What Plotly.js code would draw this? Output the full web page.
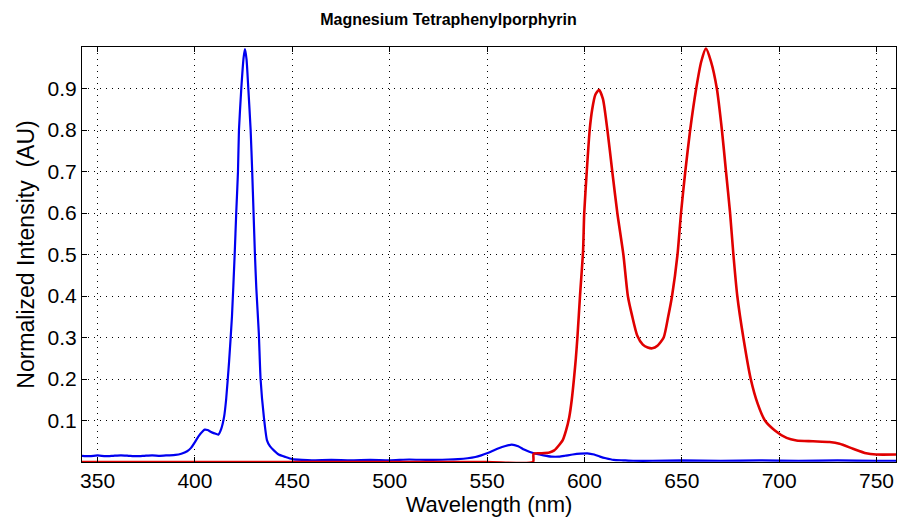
<!DOCTYPE html>
<html>
<head>
<meta charset="utf-8">
<script src="https://cdn.plot.ly/plotly-3.0.1.min.js"></script>
<style>html,body{margin:0;padding:0;background:#fff;}#chart{width:897px;height:519px;}</style>
</head>
<body>
<div id="chart"></div>
<script>
// Absorption (blue)
const blueWavelength = [342,346,350,354,358,362,366,370,374,378,382,386,390,393,396,398,400,402,404,405,406.5,408,410,412,413.5,415,416,417.5,419,420.4,421.2,422.1,422.6,423.8,425,425.7,426.5,427.4,428.6,429.4,430.1,430.8,431.5,432.8,433.7,435.4,437,438.5,440.5,443,446.5,450,455,460,470,480,490,500,510,520,530,535,540,544,547,550,553,556,559,562.7,566,569,572,575,579,583,587,590,594,598,601.5,605,608,611,615,620,625,635,650,670,690,710,730,750,760];
const blueIntensity = [0.015,0.014,0.016,0.014,0.015,0.016,0.015,0.014,0.015,0.016,0.015,0.016,0.017,0.020,0.026,0.034,0.048,0.063,0.074,0.078,0.077,0.073,0.069,0.066,0.080,0.110,0.150,0.240,0.350,0.500,0.600,0.700,0.800,0.900,0.975,0.995,0.970,0.900,0.800,0.700,0.600,0.500,0.420,0.310,0.200,0.108,0.052,0.038,0.028,0.018,0.012,0.007,0.005,0.004,0.005,0.004,0.005,0.004,0.006,0.005,0.006,0.007,0.009,0.012,0.016,0.021,0.027,0.033,0.038,0.042,0.038,0.030,0.024,0.020,0.016,0.013,0.013,0.015,0.018,0.020,0.021,0.018,0.013,0.009,0.005,0.004,0.003,0.003,0.004,0.003,0.004,0.003,0.004,0.003,0.003];
// Emission (red)
const redWavelength = [342,400,450,500,550,573.6,573.9,578,582,584.5,586.5,588.8,590.5,592.2,593.5,594.7,595.6,596.4,597.8,599.3,599.9,601.2,602.7,604,605.6,607.5,609.5,611.8,614.3,616.9,620,622.3,624.5,627.1,630,632.5,634.8,637.5,640.7,643,645,647.8,649.6,651.8,654.3,657.4,660,662.4,665,668,670.6,672.7,674.8,676.5,678.5,681.6,685.4,689,692.7,697.8,703.8,708.9,717.4,725.9,731,737.9,744.7,749.8,760];
const redIntensity = [0,0,0,0,0,0,0.020,0.021,0.023,0.028,0.038,0.052,0.075,0.108,0.150,0.204,0.250,0.300,0.405,0.508,0.600,0.700,0.800,0.850,0.885,0.897,0.875,0.800,0.700,0.600,0.500,0.400,0.352,0.305,0.283,0.276,0.274,0.280,0.300,0.350,0.400,0.500,0.600,0.700,0.800,0.900,0.965,0.996,0.965,0.900,0.800,0.700,0.600,0.500,0.400,0.300,0.200,0.140,0.100,0.076,0.058,0.052,0.050,0.048,0.044,0.032,0.021,0.018,0.018];
const xTicks = [350,400,450,500,550,600,650,700,750];
const yTicks = [0.1,0.2,0.3,0.4,0.5,0.6,0.7,0.8,0.9];

const FONT = '"Liberation Sans", Arial, Helvetica, sans-serif';
const axisCommon = {
  showline: true, linecolor: '#000', linewidth: 1, mirror: 'ticks',
  ticks: 'inside', ticklen: 5, tickcolor: '#000', tickwidth: 1,
  showgrid: true, gridcolor: '#000', gridwidth: 1, griddash: '1px,5px',
  zeroline: false, tickfont: {family: FONT, size: 21, color: '#000'}
};
const data = [
  {x: blueWavelength, y: blueIntensity, type: 'scatter', mode: 'lines', line: {color: '#0000f0', width: 2.2, shape: 'spline', smoothing: 0.5}, hoverinfo: 'skip'},
  {x: redWavelength, y: redIntensity, type: 'scatter', mode: 'lines', line: {color: '#e00000', width: 2.6, shape: 'spline', smoothing: 0.6}, hoverinfo: 'skip'}
];
const layout = {
  width: 897, height: 519,
  margin: {l: 82, r: 1, t: 47, b: 57},
  paper_bgcolor: '#fff', plot_bgcolor: '#fff',
  showlegend: false,
  title: {text: 'Magnesium Tetraphenylporphyrin', font: {family: FONT, size: 16, color: '#000', weight: 'bold'}, x: 0.5, xanchor: 'center', y: 0.962, yanchor: 'middle'},
  xaxis: Object.assign({}, axisCommon, {range: [342, 760], tickvals: xTicks, ticktext: xTicks.map(String),
    title: {text: 'Wavelength (nm)', font: {family: FONT, size: 22, color: '#000'}, standoff: 2}}),
  yaxis: Object.assign({}, axisCommon, {range: [0, 1], tickvals: yTicks, ticktext: yTicks.map(v => v.toFixed(1)),
    title: {text: 'Normalized Intensity  (AU)', font: {family: FONT, size: 23, color: '#000'}, standoff: 6}})
};
Plotly.newPlot('chart', data, layout, {staticPlot: true, displayModeBar: false});
</script>
</body>
</html>
